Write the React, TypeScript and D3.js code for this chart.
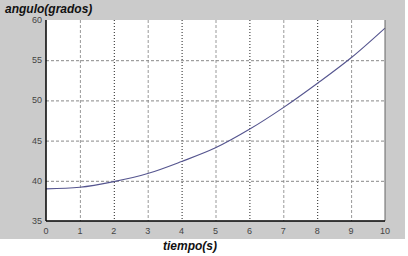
import React, { useRef, useEffect } from 'react';
import * as d3 from 'd3';

const tiempo = [0, 1, 2, 3, 4, 5, 6, 7, 8, 9, 10];
const angulo = [39.0, 39.2, 39.9, 40.9, 42.4, 44.1, 46.4, 49.1, 52.1, 55.3, 59.0];
const xTicks = [0, 1, 2, 3, 4, 5, 6, 7, 8, 9, 10];
const yTicks = [35, 40, 45, 50, 55, 60];

const App = () => {
    const ref = useRef<SVGSVGElement>(null);

    useEffect(() => {
        const svg = d3.select(ref.current)
            .attr('width', 408)
            .attr('height', 256);

        svg.selectAll('*').remove();

        const margin = { top: 20, right: 23, bottom: 35, left: 46 };
        const width = 408 - margin.left - margin.right;
        const height = 256 - margin.top - margin.bottom;

        // grey figure background
        svg.append('rect')
            .attr('x', 0).attr('y', 0)
            .attr('width', 405).attr('height', 239)
            .attr('fill', '#cbcbcb');

        const g = svg.append('g')
            .attr('transform', `translate(${margin.left},${margin.top})`);

        const x = d3.scaleLinear().domain([0, 10]).range([0, width]);
        const y = d3.scaleLinear().domain([35, 60]).range([height, 0]);

        g.append('rect')
            .attr('width', width)
            .attr('height', height)
            .attr('fill', '#fff');

        // grid
        g.selectAll('.vgrid')
            .data(xTicks.slice(1, -1))
            .enter().append('line')
            .attr('x1', d => x(d) + 0.5).attr('x2', d => x(d) + 0.5)
            .attr('y1', 0).attr('y2', height)
            .attr('stroke', d => (d % 2 === 0 ? '#222' : '#999'))
            .attr('stroke-dasharray', d => (d % 2 === 0 ? '1,2' : '3,2'))
            .attr('stroke-width', 1);

        g.selectAll('.hgrid')
            .data(yTicks.slice(1, -1))
            .enter().append('line')
            .attr('x1', 0).attr('x2', width)
            .attr('y1', d => y(d) + 0.5).attr('y2', d => y(d) + 0.5)
            .attr('stroke', '#888')
            .attr('stroke-dasharray', '3,2')
            .attr('stroke-width', 1);

        // curve
        const line = d3.line<number>()
            .x((d, i) => x(tiempo[i]))
            .y(d => y(d))
            .curve(d3.curveMonotoneX);

        g.append('path')
            .datum(angulo)
            .attr('d', line)
            .attr('fill', 'none')
            .attr('stroke', '#55558f')
            .attr('stroke-width', 1.1);

        // axes frame
        g.append('line')
            .attr('x1', width).attr('x2', width)
            .attr('y1', 0).attr('y2', height)
            .attr('stroke', '#666');
        g.append('line')
            .attr('x1', 0).attr('x2', 0)
            .attr('y1', 0).attr('y2', height)
            .attr('stroke', '#000').attr('stroke-width', 1.5);
        g.append('line')
            .attr('x1', 0).attr('x2', width)
            .attr('y1', height).attr('y2', height)
            .attr('stroke', '#000').attr('stroke-width', 1.5);

        // tick labels
        g.selectAll('.xlab')
            .data(xTicks)
            .enter().append('text')
            .attr('x', d => x(d))
            .attr('y', height + 13)
            .attr('text-anchor', 'middle')
            .attr('font-family', 'Arial, Liberation Sans, sans-serif')
            .attr('font-size', 9)
            .attr('fill', '#444')
            .text(d => d);

        g.selectAll('.ylab')
            .data(yTicks)
            .enter().append('text')
            .attr('x', -4)
            .attr('y', d => y(d) + 3)
            .attr('text-anchor', 'end')
            .attr('font-family', 'Arial, Liberation Sans, sans-serif')
            .attr('font-size', 9)
            .attr('fill', '#444')
            .text(d => d);

        // titles
        svg.append('text')
            .attr('x', 5).attr('y', 13)
            .attr('font-family', 'Arial, Liberation Sans, sans-serif')
            .attr('font-size', 12)
            .attr('font-weight', 'bold')
            .attr('font-style', 'italic')
            .attr('fill', '#111')
            .text('angulo(grados)');

        svg.append('text')
            .attr('x', 190).attr('y', 250)
            .attr('text-anchor', 'middle')
            .attr('font-family', 'Arial, Liberation Sans, sans-serif')
            .attr('font-size', 12)
            .attr('font-weight', 'bold')
            .attr('font-style', 'italic')
            .attr('fill', '#111')
            .text('tiempo(s)');
    }, []);

    return (
        <div style={{ position: 'absolute', left: 0, top: 0 }}>
            <svg ref={ref} style={{ display: 'block' }}></svg>
        </div>
    );
};

export default App;
